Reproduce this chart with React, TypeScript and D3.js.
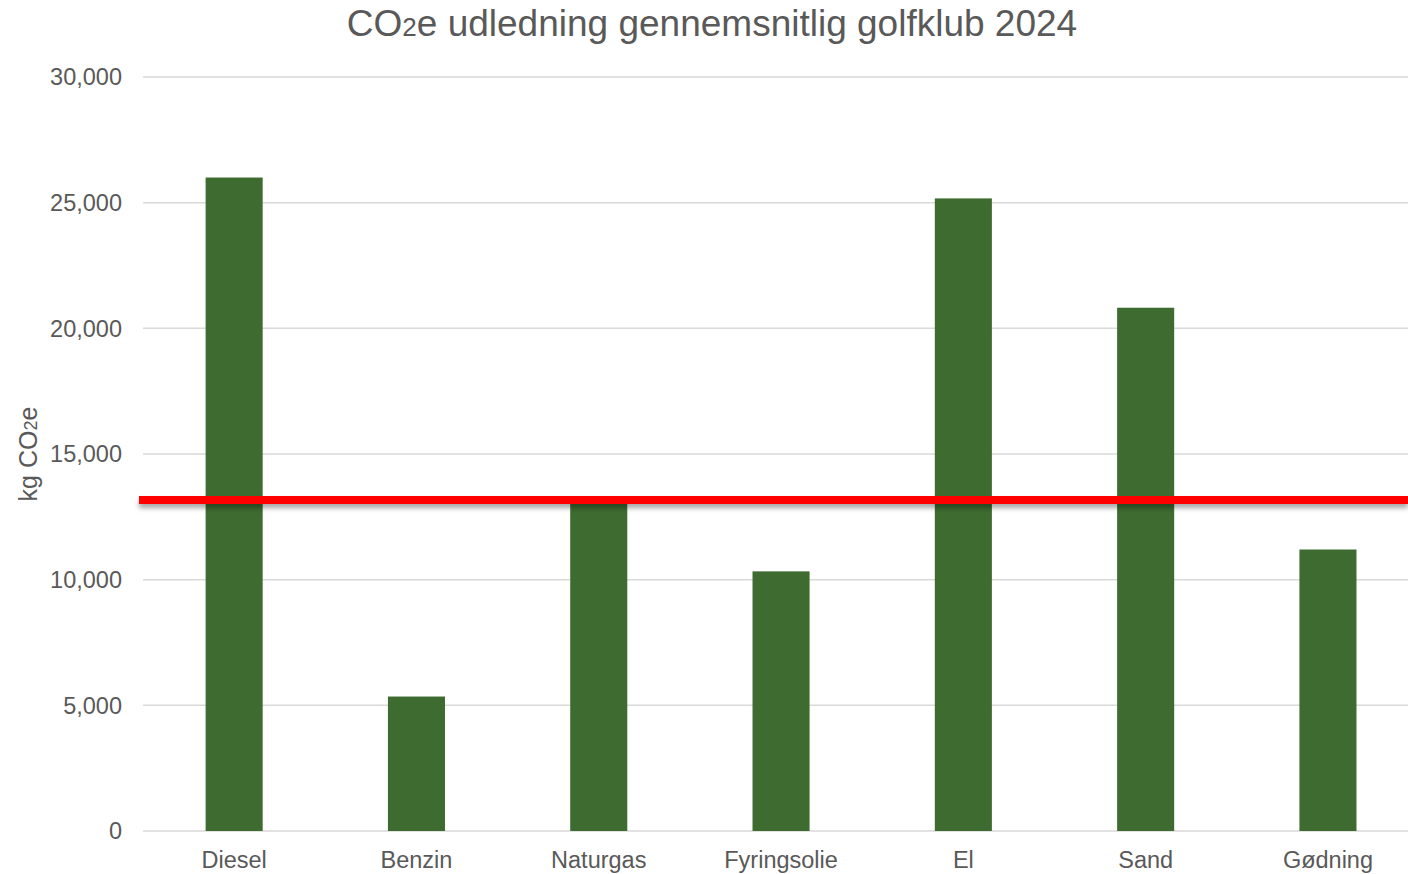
import React from 'react'
import * as d3 from 'd3'

const WIDTH = 1408
const HEIGHT = 874
const MARGIN = { top: 77, left: 143, bottom: 43 }

const CATEGORIES = ['Diesel', 'Benzin', 'Naturgas', 'Fyringsolie', 'El', 'Sand', 'Gødning']
const VALUES = [26000, 5350, 13100, 10330, 25170, 20820, 11200]
const AVERAGE = 13170
const Y_TICKS = [0, 5000, 10000, 15000, 20000, 25000, 30000]

const FONT = 'Arial, "Liberation Sans", sans-serif'
const TEXT_COLOR = '#595959'
const BAR_COLOR = '#3d6b30'

export default function App() {
  const innerBottom = HEIGHT - MARGIN.bottom

  const x = d3.scaleBand()
    .domain(CATEGORIES)
    .range([MARGIN.left, MARGIN.left + 7 * 182.3])
    .paddingInner(0.687)
    .paddingOuter(0.3435)

  const y = d3.scaleLinear()
    .domain([0, 30000])
    .range([innerBottom, MARGIN.top])

  const fmt = d3.format(',')
  const avgY = y(AVERAGE)

  return (
    <svg
      width={WIDTH}
      height={HEIGHT}
      style={{ position: 'absolute', left: 0, top: 0, background: '#fff' }}
      fontFamily={FONT}
    >
      <defs>
        <filter id="lineShadow" filterUnits="userSpaceOnUse" x={0} y={avgY - 20} width={WIDTH} height={50}>
          <feDropShadow dx="0" dy="4" stdDeviation="2.5" floodColor="#000" floodOpacity="0.35" />
        </filter>
      </defs>

      {/* Title */}
      <text x={712} y={36} textAnchor="middle" fontSize={37} fill={TEXT_COLOR}>
        CO<tspan fontSize={26}>2</tspan>e udledning gennemsnitlig golfklub 2024
      </text>

      {/* Gridlines + y ticks */}
      {Y_TICKS.map(t => (
        <g key={t}>
          <line
            x1={MARGIN.left}
            x2={WIDTH}
            y1={y(t)}
            y2={y(t)}
            stroke="#d9d9d9"
            strokeWidth={1.5}
          />
          <text
            x={122}
            y={y(t)}
            dy="0.35em"
            textAnchor="end"
            fontSize={23.5}
            fill={TEXT_COLOR}
          >
            {fmt(t)}
          </text>
        </g>
      ))}

      {/* Y-axis label */}
      <text
        transform={`translate(37, ${(MARGIN.top + innerBottom) / 2}) rotate(-90)`}
        textAnchor="middle"
        fontSize={25}
        fill={TEXT_COLOR}
      >
        kg CO<tspan fontSize={18}>2</tspan>e
      </text>

      {/* Bars */}
      {CATEGORIES.map((c, i) => (
        <rect
          key={c}
          x={x(c)}
          y={y(VALUES[i])}
          width={x.bandwidth()}
          height={innerBottom - y(VALUES[i])}
          fill={BAR_COLOR}
        />
      ))}

      {/* Category labels */}
      {CATEGORIES.map(c => (
        <text
          key={c}
          x={(x(c) ?? 0) + x.bandwidth() / 2}
          y={868}
          textAnchor="middle"
          fontSize={23.5}
          fill={TEXT_COLOR}
        >
          {c}
        </text>
      ))}

      {/* Average line */}
      <rect
        x={139}
        y={avgY - 4}
        width={WIDTH - 139}
        height={8}
        fill="#ff0000"
        filter="url(#lineShadow)"
      />
    </svg>
  )
}
